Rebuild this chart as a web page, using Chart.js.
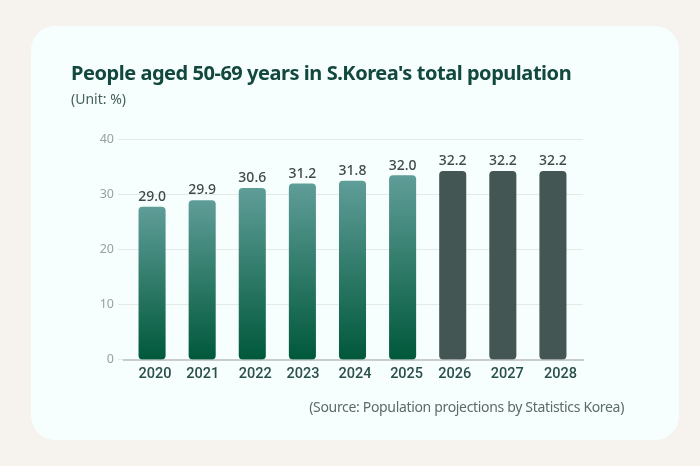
<!DOCTYPE html>
<html>
<head>
<meta charset="utf-8">
<title>People aged 50-69 years</title>
<script src="https://cdn.jsdelivr.net/npm/chart.js@4"></script>
<style>
  html, body { margin: 0; padding: 0; background: #f6f2ee; }
  #page { position: relative; width: 700px; height: 466px; overflow: hidden; font-family: "Noto Sans", sans-serif; }
  #card { position: absolute; left: 31px; top: 26px; width: 648px; height: 414px; background: #f6fffe; border-radius: 24px; }
  #medidaCanvas { position: absolute; left: 0; top: 0; }
  .txt { position: absolute; white-space: nowrap; }
  #title { left: 71px; top: 59px; font-size: 20px; font-weight: 700; letter-spacing: -0.46px; color: #13483f; line-height: 28px; }
  #unit { left: 71px; top: 89px; font-size: 14px; color: #46605c; line-height: 20px; }
  #source { right: 76px; top: 397px; font-size: 14px; letter-spacing: -0.33px; color: #5d6b69; line-height: 20px; }
</style>
</head>
<body>
<div id="page">
  <div id="card"></div>
  <canvas id="medidaCanvas" width="700" height="466"></canvas>
  <div class="txt" id="title">People aged 50-69 years in S.Korea's total population</div>
  <div class="txt" id="unit">(Unit: %)</div>
  <div class="txt" id="source">(Source: Population projections by Statistics Korea)</div>
</div>
<script>
const years = [2020, 2021, 2022, 2023, 2024, 2025, 2026, 2027, 2028];
// bar heights as drawn in the picture, they sit a bit off the printed numbers
const barHeights = [27.7, 28.9, 31.1, 31.9, 32.4, 33.4, 34.2, 34.2, 34.2];
const valueLabels = ['29.0', '29.9', '30.6', '31.2', '31.8', '32.0', '32.2', '32.2', '32.2'];
const yTicks = [0, 10, 20, 30, 40];
const firstProjected = 2026;
// year labels are not quite centred under the bars in the original (in years)
const yearLabelNudge = [0.06, 0.01, 0.06, 0.01, 0.05, 0.08, 0.04, 0.09, 0.15];

function barFill(context) {
  const i = context.dataIndex;
  if (years[i] >= firstProjected) return '#445654';
  const yScale = context.chart.scales.y;
  // first pass runs before layout, scale has no pixels yet
  if (!context.chart.chartArea || !yScale) return '#2f7a68';
  const grad = context.chart.ctx.createLinearGradient(0, yScale.getPixelForValue(barHeights[i]), 0, yScale.getPixelForValue(0));
  grad.addColorStop(0, '#5f9d98');
  grad.addColorStop(1, '#00583a');
  return grad;
}

const valueLabelPlugin = {
  id: 'valueLabels',
  afterDatasetsDraw(chart) {
    const ctx = chart.ctx;
    ctx.save();
    ctx.font = '500 14px "Noto Sans"';
    ctx.fillStyle = '#43484a';
    ctx.textAlign = 'center';
    ctx.textBaseline = 'middle';
    chart.getDatasetMeta(0).data.forEach((bar, i) => {
      ctx.fillText(valueLabels[i], bar.x, bar.y - 10);
    });
    ctx.restore();
  }
};

const ctx = document.getElementById('medidaCanvas').getContext('2d');
const chart = new Chart(ctx, {
  type: 'bar',
  data: {
    datasets: [{
      data: years.map((y, i) => ({ x: y, y: barHeights[i] })),
      backgroundColor: barFill,
      barThickness: 26.4,
      borderRadius: 4,
      borderSkipped: false
    }]
  },
  options: {
    responsive: false,
    animation: false,
    layout: { padding: { left: 0, right: 117, top: 139.3, bottom: 66.3 } },
    plugins: { legend: { display: false }, tooltip: { enabled: false } },
    scales: {
      x: {
        type: 'linear',
        offset: false,
        min: 2019.44,
        max: 2028.6,
        afterBuildTicks(scale) {
          scale.ticks = years.map((y, i) => ({ value: y + yearLabelNudge[i] }));
        },
        afterFit(scale) { scale.height = 40; },
        grid: { display: false, drawTicks: false },
        border: { color: '#c8cccb', width: 2 },
        ticks: {
          autoSkip: false,
          maxRotation: 0,
          padding: 6,
          color: '#2b4f4a',
          font: { family: 'Roboto', size: 14.5, weight: '500' },
          callback: (value, i) => String(years[i])
        }
      },
      y: {
        min: 0,
        max: 40,
        afterBuildTicks(scale) {
          scale.ticks = yTicks.map(v => ({ value: v }));
        },
        afterFit(scale) { scale.width = 124; },
        border: { display: false },
        grid: { color: '#e3eae8', lineWidth: 1, tickLength: 6 },
        ticks: {
          padding: 4,
          color: '#9a9f9e',
          font: { family: 'Noto Sans', size: 12.5 }
        }
      }
    }
  },
  plugins: [valueLabelPlugin]
});
</script>
</body>
</html>
